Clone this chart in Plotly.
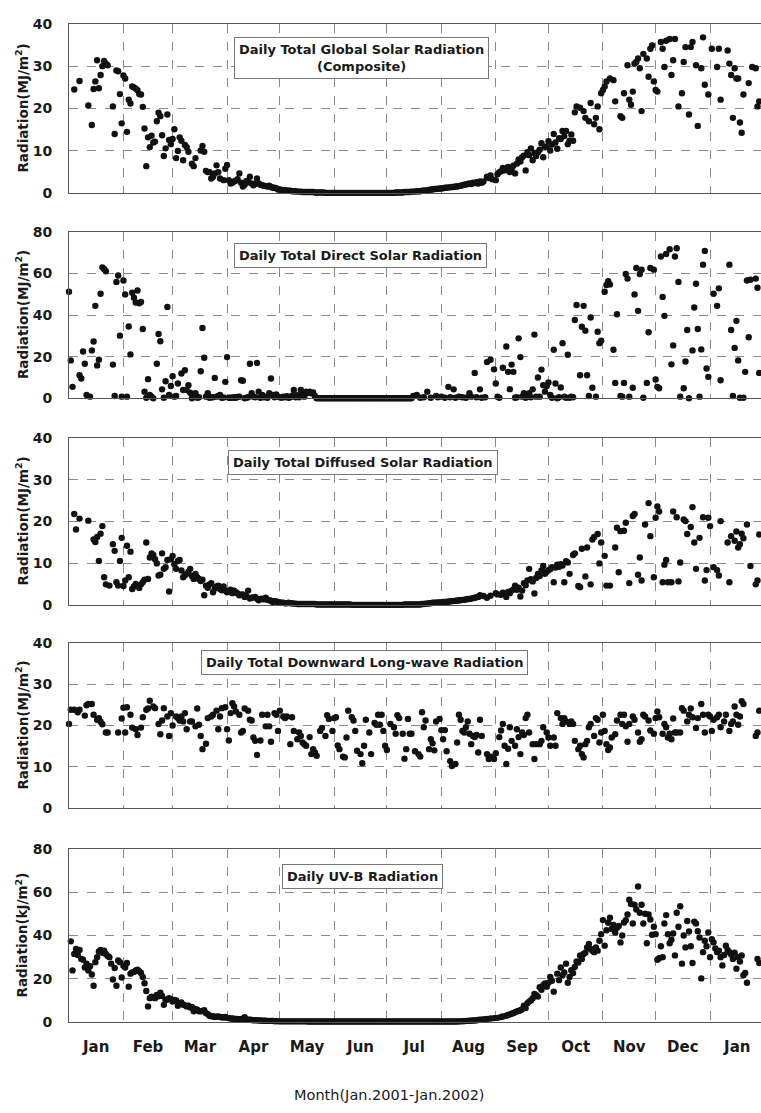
import pandas as pd
import plotly.graph_objects as go

START = pd.Timestamp("2001-01-01")
X_END = "2002-01-30"

# ---------------- data (day offset from 2001-01-01, value) ----------------
glob_a = [(3,24.5),(6,26.5),(11,20.7),(13,16.1),(14,24.6),(15,26.4),(16,31.4),(17,24.8),(18,27.9),(19,30),(20,31.2),(21,30.6),(22,30.2),(25,20.5),(26,14),(27,29),(28,28.8),(29,23.4),(30,16.5),(31,27.8),(32,27.1),(33,14.5),(34,22.1),(35,21.2),(36,25.2),(37,25),(38,24.7),(39,24.3),(40,23.4),(41,23.3),(42,20.4),(43,15.3),(44,6.4),(45,13.2),(46,10.9),(47,13.6),(48,12),(49,12.2),(50,17),(51,19),(52,18.2),(53,13.7),(54,8.8),(55,10.6),(56,18.6),(57,12.6),(58,11.6),(59,12.8),(60,15.1),(61,8.3),(62,10),(63,13.2),(64,12.4),(65,7.8),(66,11.4),(67,10.9),(68,9.8),(70,7),(71,6.4),(72,8.3),(75,10.1),(76,11.2),(77,9.8),(78,5.3),(79,5),(80,5),(81,3.5),(82,3.9),(83,4.7),(84,6.6),(85,5),(86,3.5),(88,3.1),(89,5.8),(90,6.7),(91,3.1),(92,2.3),(93,2.5),(94,2.8),(95,3),(96,3.3),(97,4.7),(98,2.5),(99,1.6),(100,2),(101,2.9),(102,2.6),(103,3.9),(104,2.3),(105,1.9),(106,2.2),(107,3.5),(108,2.3),(109,2),(110,1.9),(111,1.8),(112,1.7),(113,1.6),(114,1.8),(115,1.5),(116,1.3),(117,1.3),(118,1.2),(119,0.9)]
glob_night_start = 120
glob_night = [0.9,0.8,0.8,0.7,0.7,0.6,0.6,0.5,0.5,0.5,0.4,
              0.4,0.4,0.3,0.3,0.3,0.3,0.3,0.3,0.3,0.2,0.2,0.2,0.2,0.2,0.2,
              0.1,0.1,0.1,0.1,0.1,0.1,0.1,0.1,0.1,0.1,0.1,0.1,0.1,0.1,0.1,0.1,0.1,0.1,0.1,0.1,
              0.1,0.1,0.1,0.1,0.1,0.1,0.1,0.1,0.1,0.1,0.1,0.1,0.1,0.1,0.1,0.1,0.1,0.1,0.1,0.1,
              0.2,0.2,0.2,0.2,0.2,0.3,0.3,0.3,0.3,0.4,0.4,0.4,0.5,0.5,0.5,0.6,0.6,0.7,0.7,0.8,
              0.9,0.9,1.0,1.0,1.1,1.1,1.2,1.2,1.3,1.3,1.4,1.4,1.5,1.5,1.6,1.6,1.7,1.8,1.9,2.0,2.1,2.2,2.3,2.2,2.5,2.4,2.6,2.3,2.8,2.5]
glob_b = [(236,2.8),(238,3.9),(239,3.6),(240,4.2),(241,3.3),(243,3.1),(244,4.5),(245,5),(246,5.2),(247,6),(248,5.4),(249,5.8),(250,6.2),(251,5),(252,5.6),(253,6.5),(254,4.7),(255,7),(256,8),(257,7.5),(258,8.5),(259,8.9),(260,5.4),(261,9.7),(262,9),(263,10.6),(264,7.8),(265,9.5),(266,8.8),(267,9.7),(268,10.3),(269,11.8),(270,8.5),(271,11),(272,10.9),(273,12.3),(274,10.1),(275,11.5),(276,14),(277,12),(278,10.5),(279,13),(280,12.8),(281,14.7),(282,13.5),(283,14.7),(284,11.6),(285,12.4),(286,13.9),(287,12.4),(288,19.1),(289,20.5),(291,20.2),(293,19.4),(294,17.8),(296,17),(297,21.3),(299,16.3),(300,17.8),(301,20.5),(302,15.1),(303,23.6),(304,24.4),(305,25.2),(306,26.4),(308,27.1),(310,26.7),(311,21.7),(314,18.2),(315,17.8),(316,23.6),(318,30.2),(319,22.1),(320,20.9),(321,24),(322,30.6),(323,31),(324,31.8),(325,29.5),(326,19.4),(327,32.9),(329,31.8),(330,27.5),(331,34.1),(332,34.9),(333,26.4),(334,24.4),(335,24),(337,35.7),(338,34.1),(339,29.8),(340,36),(342,36.4),(343,27.9),(344,31.4),(345,36.4),(347,20.5),(349,23.6),(350,31),(351,34.5),(353,18.6),(354,34.5),(355,35.7),(357,30.2),(358,15.9),(360,29.5),(361,36.8),(362,25.6),(364,23.3),(366,34.1),(369,29.8),(370,34.1),(371,22.1),(375,33.7),(376,30.6),(377,27.9),(378,17.8),(379,29.5),(380,27.1),(381,27.1),(382,16.7),(383,14.3),(384,23.3),(387,26),(389,29.8),(391,29.5),(392,20.5),(393,21.7)]

dir_a = [(0,51.2),(1,18.2),(2,5.5),(6,11.1),(7,9.5),(8,22.5),(9,16.6),(10,1.6),(12,0.8),(13,23),(14,27.3),(15,44.4),(16,15.8),(17,18.5),(18,50.2),(19,62.9),(20,62.1),(21,61),(25,16.2),(26,1.1),(27,55.9),(28,59),(29,30.1),(30,0.8),(31,56.6),(32,49.9),(33,0.8),(34,34.5),(35,21.1),(36,50.7),(37,48.3),(38,46),(39,51.8),(40,45.6),(41,46.3),(42,33.3),(43,3.2),(44,0.3),(45,9.2),(46,1.6),(47,0.8),(48,0),(50,16.6),(51,30.9),(52,27.4),(53,4.3),(54,0.3),(55,8.2),(56,43.9),(57,1.6),(58,5.9),(59,10.6),(60,0.8),(61,1.1),(62,7.1),(64,11.9),(65,4),(66,13.5),(67,4),(68,6.3),(69,2.7),(70,0),(71,1.1),(72,2.4),(73,0.3),(74,0.5),(75,13),(76,33.8),(77,19.5),(78,0.8),(79,2.4),(80,0.3),(81,0.5),(82,0.5),(83,9.8),(84,0.8),(85,1.1),(86,1.6),(87,0.3),(88,0.4),(89,7.9),(90,19.8),(91,0.3),(92,0.3),(93,0.3),(94,0.5),(95,0.3),(96,0.6),(97,0.8),(98,8.7),(99,8.4),(100,0),(101,0.3),(102,0.5),(103,16.6),(104,2.4),(105,0.8),(106,0.5),(107,17),(108,3.2),(109,0.3),(110,1.6),(111,0.5),(112,0.8),(113,0.3),(114,2.4),(115,9.5),(116,1.6),(117,0.5),(118,1.9),(119,0.8),(120,0.5),(121,0.3),(122,0.8),(123,0.5),(124,1),(125,0.3),(126,0.5),(127,1.2),(128,4),(129,0.5),(130,1.5),(131,0.5),(132,4),(133,1.6),(134,0.8),(135,3.2),(136,2.5),(137,3.2),(138,2.4),(139,2.8),(140,1.1)]
dir_night_start = 141
dir_night = [0,0,0,0,0,0,0,0,0,0,0,0,0,0,0,0,0,0,0,0,0,0,0,0,0,0,0,0,0,0,
             0,0,0,0,0,0,0,0,0,0,0,0,0,0,0,0,0,0,0,0,0,0,0,0,0]
dir_b = [(196,1.1),(198,1.6),(200,0.3),(202,0.5),(204,3.2),(206,0.3),(209,1.1),(210,0.5),(212,0.8),(214,0.3),(216,5.5),(217,0.5),(219,4.3),(220,0.3),(222,0.8),(224,0.5),(226,0.3),(228,2.4),(229,0.8),(231,12.2),(232,0.5),(234,4.3),(235,0.3),(237,0.5),(238,17.4),(240,18.5),(242,13.9),(243,7.1),(244,0.8),(245,0.3),(247,14.7),(249,24.9),(250,12.7),(251,4.4),(252,16.2),(253,12.7),(254,0.3),(255,0.5),(256,28.8),(257,19.8),(258,0.8),(259,2.4),(260,0.3),(261,0.8),(262,2.4),(263,0.5),(264,4.3),(265,30.6),(266,0.8),(267,10),(268,0.8),(269,13.8),(270,6.3),(271,3.2),(272,5.9),(273,7.6),(274,1.6),(275,0.3),(276,23.3),(277,7.1),(278,0),(279,0.5),(280,5.2),(281,26.5),(282,0.8),(283,0.3),(284,20.9),(285,0.3),(286,0.8),(287,0.5),(288,37.6),(289,44.8),(291,11.1),(292,34.4),(293,44.4),(294,32.5),(295,11.1),(296,1.1),(297,38.8),(298,5.1),(300,0.8),(301,32),(302,26.5),(303,27.7),(305,51.2),(306,54.4),(307,56.3),(308,54.7),(310,23.3),(311,7.4),(312,40.4),(314,1.1),(315,0.8),(316,7.4),(317,59.7),(318,57.5),(319,0.8),(321,5.1),(322,49.9),(323,62.6),(324,42),(325,59.7),(326,61.8),(327,0.3),(329,7.4),(330,31.7),(331,62.6),(333,61.8),(334,9),(335,5.5),(336,4.8),(337,68.1),(338,48.7),(339,39.6),(340,69.3),(342,71.6),(343,16.3),(344,25.4),(345,68.1),(346,72.1),(347,55.9),(348,0.8),(350,4.8),(351,17.7),(352,32.8),(353,0),(355,23),(356,43.6),(357,55),(358,33.3),(359,0.8),(360,23.5),(361,64.2),(362,70.8),(363,14.3),(364,10.3),(367,50.2),(369,44.4),(370,52.8),(371,8.7),(376,64.2),(377,32.8),(378,1.1),(379,24.2),(380,37.2),(381,18.2),(382,0.3),(384,0.3),(385,12.7),(386,56.6),(387,29.3),(388,57),(391,57.5),(392,53.1),(393,12.2)]

dif_a = [(3,21.8),(4,18.1),(6,20.7),(11,20.2),(14,15.7),(15,15.1),(16,16.3),(17,10.6),(18,17.1),(19,18.9),(20,6.7),(21,5),(23,4.7),(25,14.6),(26,13),(27,5.5),(28,4.7),(29,10.6),(30,16.1),(31,4.6),(32,5.9),(33,14.2),(34,6.7),(35,12.8),(36,3.9),(37,4.5),(38,5.1),(39,4.7),(40,4.1),(41,5),(42,5.5),(43,6.1),(44,15),(45,6.3),(46,11.4),(47,12.4),(48,12),(49,11),(50,10),(51,7.1),(52,7.3),(53,12.4),(54,8.7),(55,9.1),(56,10.8),(57,3.3),(58,11),(59,11.8),(60,9.8),(61,8.7),(62,10.6),(63,10.8),(64,8.3),(65,6.7),(66,7.2),(67,7.5),(68,8),(69,8.7),(70,7),(71,6.3),(72,7.5),(73,6.7),(74,6.3),(75,5.8),(76,6.1),(77,2.4),(78,4.7),(79,4.2),(80,5),(81,5.3),(82,3.1),(83,4),(84,4.5),(85,4.7),(86,3.9),(87,3.6),(88,4.5),(89,3.5),(90,3.1),(91,3.3),(92,3.7),(93,2.9),(94,3.5),(95,3.1),(96,2.8),(97,2.4),(98,2.5),(99,2.6),(100,2),(101,2.2),(102,3.5),(103,1.6),(104,1.8),(105,1.9),(106,2),(107,1.6),(108,1.2),(109,1.5),(110,1.6),(111,1.4),(112,1.8),(113,1.3),(114,1.2),(115,1.1),(116,0.8),(117,1),(118,0.9),(119,0.8),(120,0.7),(121,0.6),(122,0.6),(123,0.5),(124,0.5),(125,0.6),(126,0.5),(127,0.5),(128,0.4),(129,0.4)]
dif_night_start = 130
dif_night = [0.3,0.3,0.3,0.3,0.3,0.3,0.3,0.3,0.3,0.3,0.3,
             0.2,0.2,0.2,0.2,0.2,0.2,0.2,0.2,0.2,0.2,0.2,0.2,0.2,0.2,0.2,0.2,0.2,0.2,0.2,0.2,
             0.1,0.1,0.1,0.1,0.1,0.1,0.1,0.1,0.1,0.1,0.1,0.1,0.1,0.1,0.1,0.1,0.1,0.1,0.1,0.1,0.1,0.1,0.1,0.1,0.1,0.1,0.1,0.1,0.1,0.1,
             0.2,0.2,0.2,0.2,0.2,0.2,0.2,0.2,0.2,0.2,
             0.3,0.3,0.4,0.4,0.5,
             0.5,0.6,0.6,0.6,0.7,0.7,0.7,0.8,0.8,0.8,
             0.9,0.9,1.0,1.0,1.1,1.1,1.2,1.2,
             1.3,1.3,1.4,1.5,1.5,1.6,1.7,1.8,1.9,2.0]
dif_b = [(234,2.4),(236,2.2),(238,1.8),(240,2.3),(243,2.9),(244,2.6),(246,2.5),(247,3),(249,2),(250,3.2),(251,2.9),(252,3.5),(253,3.8),(254,4.7),(255,3.7),(256,4.2),(257,2.1),(258,3.5),(259,5.3),(260,4.8),(261,5.9),(262,8.7),(263,6.2),(264,5.7),(265,2.8),(266,6.5),(267,7.5),(268,7),(269,8.3),(270,9.4),(271,7.5),(272,8),(273,8.4),(274,8.6),(275,9.1),(276,5.5),(277,9),(278,9.7),(279,9.2),(280,9.8),(281,9.5),(282,5.5),(283,10.5),(284,10.2),(285,7.5),(287,12),(288,12.4),(290,4.6),(291,4.3),(292,13.5),(294,6.9),(295,13.8),(297,5),(298,15.7),(299,16.3),(301,17),(302,10),(303,15),(305,11.8),(306,4.7),(308,4.7),(311,13.8),(312,18.5),(313,7.9),(314,17.7),(316,17.8),(317,19.7),(319,5.3),(321,21.3),(322,21.8),(324,7.3),(325,11.4),(326,5.9),(328,19.3),(330,24.4),(331,16.5),(333,6.7),(334,20.9),(335,23.6),(336,22.4),(338,5.5),(339,9.7),(340,10.8),(341,5.5),(343,5.5),(344,22.4),(346,21),(347,5.7),(348,10.2),(350,20.5),(351,20.1),(352,17),(354,18.7),(355,23.4),(356,15),(357,8.7),(359,16.1),(361,21),(362,5.9),(363,8.4),(364,20.9),(365,18.9),(367,9.1),(369,8.4),(370,7.1),(371,20.1),(375,15),(376,5.5),(377,16.5),(379,15.4),(380,17.6),(381,13.8),(382,14.6),(383,17.1),(384,16),(386,19.3),(388,9.4),(391,5),(392,5.9),(393,16.9)]

lw_a = [(0,20.4),(1,23.8),(3,23.8),(5,23.2),(6,23.8),(9,22.4),(10,24.9),(11,25.2),(13,25.2),(14,22.6),(16,21.4),(17,21.8),(18,20.9),(19,20.3),(21,18.3),(22,18.3),(28,18.3),(30,21.7),(31,24.3),(32,18.3),(33,24.4),(35,22.6),(36,19.5),(38,19.1),(39,17.7),(41,19.5),(42,22),(44,23.8),(45,24.1),(46,26),(48,24.6),(49,24.2),(51,20.4),(52,17.9),(53,21.2),(54,24.2),(56,22.2),(57,17.5),(58,23),(59,20),(61,22.2),(62,21.8),(63,21.2),(64,22.2),(65,21),(66,23),(67,19.1),(69,21),(70,21),(72,19.8),(73,24.1),(74,20.2),(75,17.5),(76,14.3),(78,15.6),(79,21.8),(81,22.2),(82,22.6),(84,23.6),(85,19.1),(86,22.2),(87,24.2),(89,24.4),(90,19.1),(91,16.4),(92,23),(93,25.4),(94,24.6),(95,23.4),(97,22.6),(98,18.3),(99,18.7),(100,24.1),(102,23.6),(103,21.4),(104,21.2),(105,17.1),(106,16.3),(107,12.9),(109,16.4),(110,22.6),(112,19.8),(113,22.6),(114,19.8),(115,16.1),(117,23),(118,22.6),(119,18.7),(120,23.6),(122,22.2),(123,21.8),(124,22.2),(126,15.5),(127,22),(128,18.7),(130,16.7),(131,18.3),(132,17.5),(133,15.9),(134,15.5),(135,15.1),(137,17.2),(138,13.1),(139,14.3),(140,13.5),(141,12.7),(143,18.7),(144,19.4),(146,17.5),(147,22.5),(148,21.6),(150,18.7),(151,21.8),(152,22),(153,15.2),(154,14.3),(156,12.5),(157,12.3),(158,17.1),(159,23.6),(161,22),(162,21.2),(163,18.7),(164,13.9),(166,13.1),(167,10.9),(168,15.1),(169,21.4),(171,18.3),(172,13.1),(174,20.6),(175,20.2),(176,22.6),(177,20.2),(178,22.6),(179,18.7),(180,15.1)]
lw_b = [(181,14.1),(183,20.4),(185,19.6),(186,18),(187,22.5),(188,21.8),(190,18),(191,12),(192,14.3),(193,21.6),(194,18),(195,18),(197,13.8),(199,13.1),(200,12.5),(201,23.2),(202,19.6),(203,21.2),(205,14.3),(206,16.7),(207,15.7),(208,14),(209,21),(211,21.6),(212,18.9),(213,16.7),(214,18.9),(215,13.8),(217,11.4),(218,10.2),(220,10.7),(221,15.9),(222,22.6),(223,21.4),(224,18.7),(225,18.3),(226,19.6),(227,21),(228,18),(229,15.5),(230,17.5),(231,17.2),(232,17.7),(233,13.5),(234,21.4),(235,17.5),(238,13.1),(239,11.9),(240,12.5),(242,11.9),(243,13.3),(245,17.2),(246,18.8),(247,20.4),(248,15.1),(249,10.7),(250,14.4),(251,19.6),(252,16.3),(254,15.1),(255,19.1),(256,17.2),(257,13.1),(258,18.3),(259,17.7),(260,21.8),(261,22.6),(262,18.3),(264,15.5),(265,11.9),(266,15.5),(268,15.5),(269,16.3),(270,19.6),(272,18.3),(273,17.1),(274,15.1),(276,17.1),(277,15.1),(278,23),(280,21.8),(281,20.4),(282,21.8),(283,21),(285,20.4),(286,21),(287,20.4),(288,16.3),(290,14.3),(291,15.1),(292,13.1),(293,12.3),(294,15.5),(295,16.3),(296,19.6),(297,20.4),(299,17.5),(300,21.8),(301,21.4),(302,15.9),(303,18.3),(304,22.6),(305,18.7),(306,15.5),(307,14.1),(308,14.7),(309,17.1),(311,17.9),(312,21.2),(314,22.6),(315,20.4),(316,22.6),(317,19.8),(318,16.1),(319,20.4),(321,22.2),(322,21.4),(324,18.3),(325,16.1),(326,16.7),(327,22.6),(328,22.2),(330,21.2),(331,18.8),(333,18),(334,21.8),(335,23.4),(336,22),(338,18),(339,20.4),(340,19.6),(341,17.1),(342,18),(343,16.7),(344,21.7),(345,18.3),(346,18.3),(348,18.3),(349,24.2),(350,23.6),(352,21),(353,22.6),(354,24.1),(355,22),(357,19.4),(358,21.8),(360,25.2),(361,22.6),(362,18.3),(364,22.6),(365,22.2),(366,18.7),(367,21.4),(369,22),(370,22.6),(371,19.6),(373,21),(374,22.6),(376,18.7),(377,20.4),(378,21),(379,24.6),(380,22.6),(381,20.2),(382,22.2),(383,25.9),(384,25.2),(391,17.5),(392,18.3),(393,23.6)]

uv_a = [(1,37.3),(2,23.9),(3,31.5),(4,33.8),(5,31),(6,33.3),(7,29.2),(8,28.8),(9,25.2),(10,27),(11,23.9),(12,25.8),(13,22),(14,16.8),(15,27.7),(16,30),(17,32.6),(18,33.3),(19,32),(20,33),(21,31.5),(22,30.5),(23,30),(24,27),(25,19.7),(26,25),(27,16.8),(28,28.5),(29,27.7),(30,20.6),(31,26),(32,25.2),(33,27.3),(34,16.4),(35,22.4),(36,23),(37,23.2),(38,23.9),(39,24.2),(40,23.5),(41,22.7),(42,20.9),(43,18),(44,14.4),(45,7.3),(46,11.1),(47,11.8),(48,11.5),(49,11.1),(50,12.6),(51,12),(52,13.6),(53,12.1),(54,8),(55,10.3),(56,10.5),(57,11.1),(58,10.6),(59,9.5),(60,10.3),(61,10),(62,7.6),(63,8.5),(64,9.1),(65,8),(66,7.8),(67,7.3),(68,7.6),(69,6.8),(70,7),(71,5),(72,6),(73,5.8),(74,5),(75,5),(76,5.2),(77,5.5),(78,4.2),(79,3.8),(80,3),(81,2.7),(82,2.8),(83,2.4),(84,2.5),(85,2.7),(86,2.4),(87,2.3),(88,2.2),(89,2.4),(90,2),(91,1.9),(92,1.7),(93,1.7),(94,1.6),(95,1.5),(96,1.5),(97,1.4),(98,1.5),(99,1.4),(100,2.3),(101,1.3),(102,1.2),(103,1.1),(104,1),(105,0.9),(106,0.9),(107,0.9),(108,0.8),(109,0.8),(110,0.7),(111,0.7),(112,0.7),(113,0.6),(114,0.6),(115,0.6),(116,0.6),(117,0.5),(118,0.5),(119,0.5)]
uv_night_start = 120
uv_night = [0.4,0.4,0.4,0.4,0.4,0.4,0.4,0.4,0.4,0.4,0.4,0.4,0.4,0.4,0.4,0.4,
            0.3,0.3,0.3,0.3,0.3,0.3,0.3,0.3,0.3,0.3,0.3,0.3,0.3,0.3,0.3,0.3,0.3,0.3,0.3,0.3,0.3,0.3,0.3,0.3,0.3,0.3,0.3,0.3,0.3,0.3,0.3,0.3,0.3,0.3,0.3,0.3,0.3,0.3,0.3,0.3,0.3,0.3,0.3,0.3,0.3,0.3,0.3,0.3,0.3,0.3,0.3,0.3,0.3,0.3,0.3,0.3,0.3,0.3,0.3,0.3,0.3,0.3,0.3,0.3,0.3,
            0.3,0.3,0.3,0.3,0.3,0.3,0.3,0.3,0.3,0.3,0.3,0.3,0.3,0.3,0.3,0.3,0.3,0.3,0.3,0.3,
            0.3,0.4,0.4,0.5,0.5,0.6,0.6,0.7,0.7,0.8,0.8,0.9,1.0,1.1,1.2,1.3,1.4]
uv_b = [(238,1.5),(240,1.7),(242,1.9),(244,2),(246,2.4),(247,2.6),(249,3),(250,3.3),(251,3.6),(252,3.9),(253,4.2),(254,4.6),(255,5),(256,5.2),(257,5.5),(258,6),(259,7.6),(260,6.5),(261,8.8),(262,9.5),(263,10),(264,11.1),(265,13),(266,12.5),(267,11.8),(268,16.1),(269,15),(270,17.1),(271,17.9),(272,16.4),(273,18.2),(274,20.9),(275,19.1),(276,14.1),(278,22.4),(279,19.4),(280,25.2),(281,21.7),(282,23),(283,27),(284,18.2),(285,20.9),(286,24),(287,22.7),(288,25.5),(289,28),(290,27.5),(291,30.8),(292,29.2),(293,31.5),(294,32),(295,34.5),(296,36.1),(297,33.8),(298,33),(299,32.3),(300,34.5),(301,33),(302,37.6),(303,40.6),(304,47.1),(305,35.3),(306,42.4),(307,45.9),(308,48.2),(309,43),(310,44.8),(311,41.4),(312,43.6),(313,44.4),(314,36.8),(315,40),(316,46),(317,47),(318,49.7),(319,56.5),(320,54.5),(321,45.5),(322,54.2),(323,52),(324,62.6),(325,50.5),(326,54.2),(327,45.5),(328,50),(329,36.4),(330,49.7),(331,47.4),(332,40.3),(333,44),(334,40.6),(335,28.8),(336,29.5),(337,35),(338,30),(339,45.5),(340,49.4),(341,40.6),(342,36.4),(343,38),(344,40.9),(345,30.8),(346,50.5),(347,44),(348,53.5),(349,27),(350,40),(351,34.5),(352,46.7),(353,41.8),(354,35),(355,27.3),(356,46.4),(357,45.5),(358,42),(359,39.1),(360,20.2),(361,32.3),(362,37.6),(363,35),(364,41.4),(365,30),(366,38.3),(367,36.8),(368,34),(369,32.3),(370,33),(371,30),(372,26.2),(373,31),(374,35.3),(375,33.3),(376,32.3),(377,31.2),(378,29.2),(379,32),(380,24.7),(381,30),(382,28),(383,30.8),(384,21.7),(385,22.7),(386,18.2),(392,29.2),(393,27.3)]

panel_titles = ["Daily Total Global Solar Radiation<br>(Composite)",
                "Daily Total Direct Solar Radiation",
                "Daily Total Diffused Solar Radiation",
                "Daily Total Downward Long-wave Radiation",
                "Daily UV-B Radiation"]
y_labels = ["Radiation(MJ/m<sup>2</sup>)"] * 4 + ["Radiation(kJ/m<sup>2</sup>)"]
y_max = [40, 80, 40, 40, 80]
y_dtick = [10, 20, 10, 10, 20]
x_title = "Month(Jan.2001-Jan.2002)"


def build(pair_lists, night_start, night):
    days, vals = [], []
    for pl in pair_lists:
        for d, v in pl:
            days.append(d)
            vals.append(v)
    for i, v in enumerate(night):
        days.append(night_start + i)
        vals.append(v)
    x = START + pd.to_timedelta(days, unit="D")
    return x, vals


series = [build([glob_a, glob_b], glob_night_start, glob_night),
          build([dir_a, dir_b], dir_night_start, dir_night),
          build([dif_a, dif_b], dif_night_start, dif_night),
          build([lw_a, lw_b], 0, []),
          build([uv_a, uv_b], uv_night_start, uv_night)]

# ---------------- layout geometry (pixels) ----------------
W, H = 761, 1113
L = 69
panel_px = [(16, 188), (227, 396), (436, 606), (644, 812), (853, 1029)]
box_px = [(361, 51), (360.5, 251), (362.5, 461), (364, 664.5), (362.5, 881)]


def py(p):
    return 1 - p / H


def px(p):
    return (p - L) / (W - L)


fig = go.Figure()
GRID = "#8a8a8a"
LINE = "#555555"
TICKFONT = dict(family="DejaVu Sans", size=14, color="#1a1a1a", weight="bold")

for i, (x, v) in enumerate(series):
    k = "" if i == 0 else str(i + 1)
    fig.add_trace(go.Scatter(x=x, y=v, mode="markers", xaxis="x" + k, yaxis="y" + k,
                             marker=dict(size=6.4, color="#111111", line=dict(width=0)),
                             cliponaxis=False, showlegend=False, hoverinfo="skip"))
    top, bot = panel_px[i]
    fig.update_layout(**{
        "xaxis" + k: dict(domain=[0, 1], anchor="y" + k, type="date",
                          range=["2001-01-01", X_END], dtick="M1", tick0="2001-01-01",
                          ticklabelmode="period", tickformat="%b",
                          showticklabels=(i == 4), ticks="", ticklabelstandoff=11,
                          tickfont=dict(family="DejaVu Sans", size=15, color="#1a1a1a", weight="bold"),
                          showgrid=True, gridcolor=GRID, griddash="dash", gridwidth=1,
                          showline=True, mirror=True, linecolor=LINE, linewidth=1,
                          zeroline=False),
        "yaxis" + k: dict(domain=[py(bot), py(top)], anchor="x" + k,
                          range=[0, y_max[i]], dtick=y_dtick[i], tick0=0,
                          ticks="", ticklabelstandoff=13, tickfont=TICKFONT,
                          showgrid=True, gridcolor=GRID, griddash="dash", gridwidth=1,
                          showline=True, mirror=False, linecolor=LINE, linewidth=1,
                          zeroline=False),
    })
    fig.add_annotation(text=y_labels[i], xref="paper", yref="paper",
                       x=px(22), y=py((top + bot) / 2), textangle=-90,
                       showarrow=False, xanchor="center", yanchor="middle",
                       font=dict(family="DejaVu Sans", size=13.5, color="#1a1a1a", weight="bold"))
    bx, by = box_px[i]
    fig.add_annotation(text=panel_titles[i], xref="paper", yref="paper",
                       x=px(bx), y=py(by), showarrow=False,
                       xanchor="center", yanchor="middle", align="center",
                       bgcolor="white", bordercolor="#777777", borderwidth=1, borderpad=4,
                       font=dict(family="DejaVu Sans", size=13, color="#1a1a1a", weight="bold"))

fig.add_annotation(text=x_title, xref="paper", yref="paper", x=px(389), y=py(1103),
                   showarrow=False, xanchor="center", yanchor="middle",
                   font=dict(family="DejaVu Sans", size=14.5, color="#1a1a1a"))

fig.update_layout(width=W, height=H, margin=dict(l=L, r=0, t=0, b=0),
                  paper_bgcolor="white", plot_bgcolor="white")

fig.write_html("out.html")
